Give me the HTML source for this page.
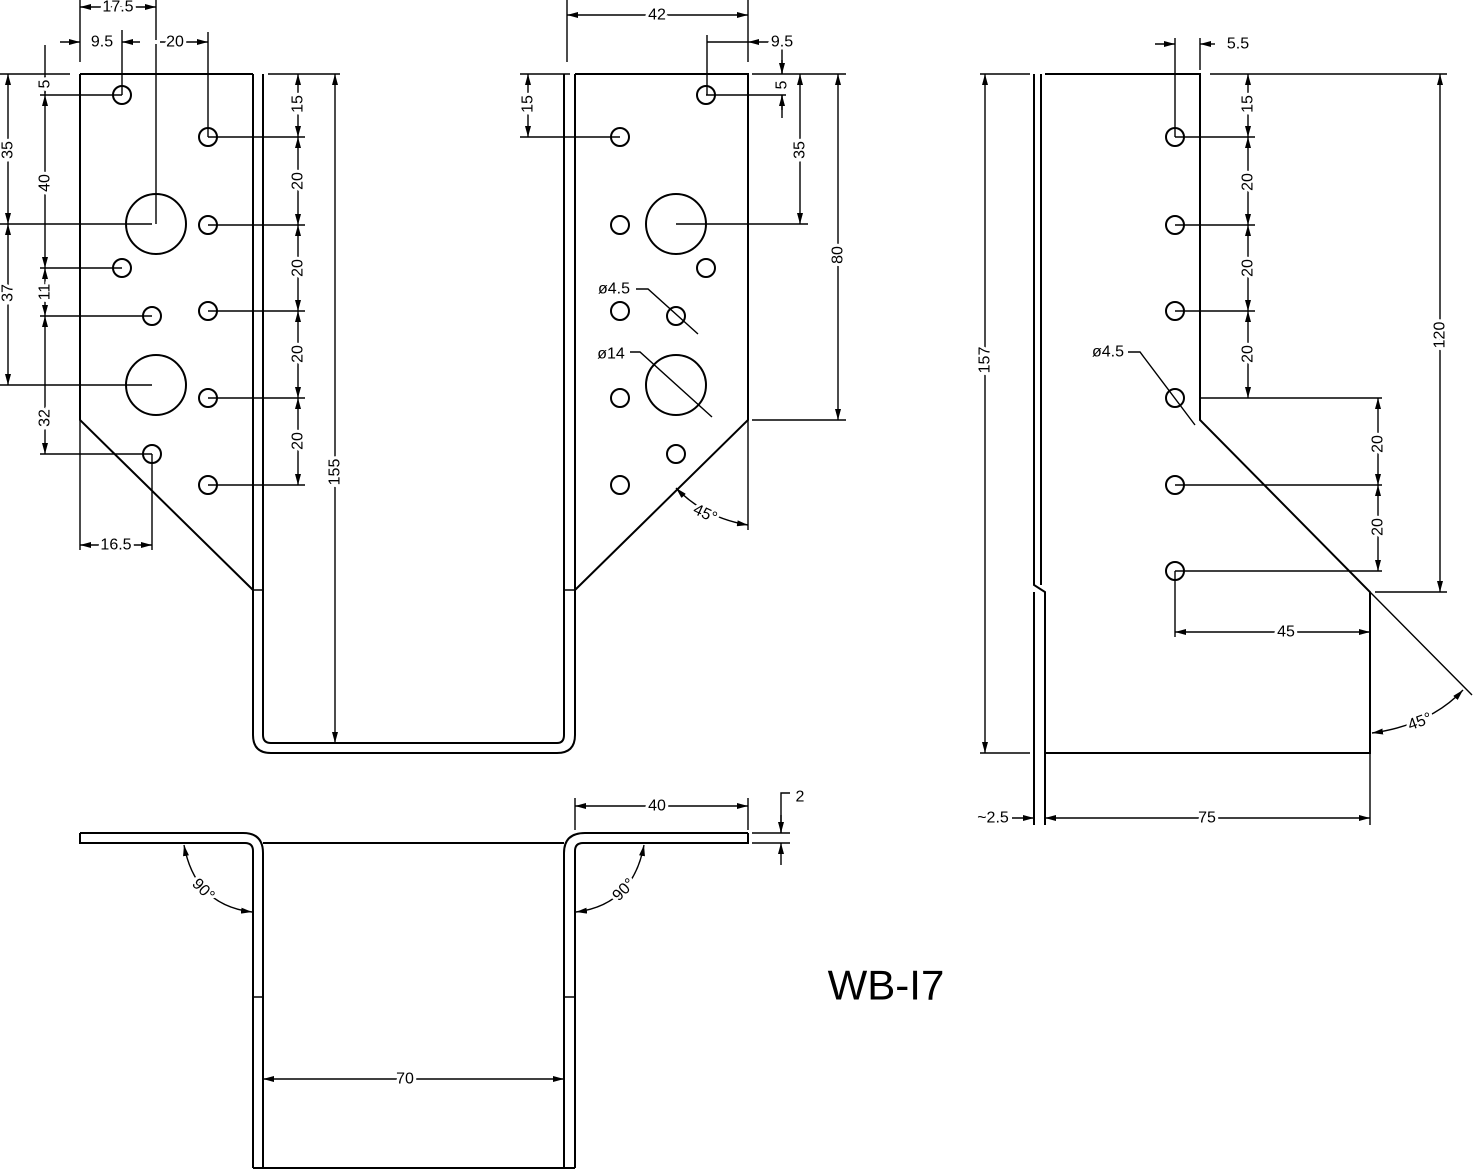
<!DOCTYPE html>
<html><head><meta charset="utf-8"><style>
html,body{margin:0;padding:0;background:#fff}
svg{display:block}
text{font-family:"Liberation Sans",sans-serif;font-size:16px;fill:#000;stroke:#fff;stroke-width:6px;paint-order:stroke;text-anchor:middle;dominant-baseline:central}
.p{fill:none;stroke:#000;stroke-width:2}
.d{fill:none;stroke:#000;stroke-width:1.4}
.a{fill:none;stroke:#000;stroke-width:1.4;marker-start:url(#m);marker-end:url(#m)}
.e{fill:none;stroke:#000;stroke-width:1.4;marker-end:url(#m)}
</style></head><body>
<svg width="1474" height="1171" viewBox="0 0 1474 1171" xmlns="http://www.w3.org/2000/svg">
<defs><marker id="m" markerUnits="userSpaceOnUse" markerWidth="11" markerHeight="6" refX="11" refY="3" orient="auto-start-reverse"><path d="M0,0 L11,3 L0,6z" fill="#000"/></marker></defs>

<!-- FRONT VIEW -->
<path class="p" d="M80,74 H253 M80,74 V420 L253,590 M253,74 V735 Q253,753 271,753 H557 Q575,753 575,735 V74 M263,74 V735 Q263,743 271,743 H557 Q564,743 564,735 V74 M575,74 H748 V420 L575,590"/>
<path class="d" d="M253,590 H263 M564,590 H575"/>
<g class="p" stroke-width="1.8">
<circle cx="122" cy="95" r="9"/><circle cx="208" cy="137" r="9"/><circle cx="208" cy="225" r="9"/><circle cx="122" cy="268" r="9"/><circle cx="152" cy="316" r="9"/><circle cx="208" cy="311" r="9"/><circle cx="208" cy="398" r="9"/><circle cx="152" cy="454" r="9"/><circle cx="208" cy="485" r="9"/>
<circle cx="156" cy="224" r="30"/><circle cx="156" cy="385" r="30"/>
<circle cx="706" cy="95" r="9"/><circle cx="620" cy="137" r="9"/><circle cx="620" cy="225" r="9"/><circle cx="706" cy="268" r="9"/><circle cx="620" cy="311" r="9"/><circle cx="676" cy="316" r="9"/><circle cx="620" cy="398" r="9"/><circle cx="676" cy="454" r="9"/><circle cx="620" cy="485" r="9"/>
<circle cx="676" cy="224" r="30"/><circle cx="676" cy="385" r="30"/>
</g>
<!-- left dims -->
<path class="d" d="M80,0 V62 M156,0 V224 M122,30 V95 M208,32 V137 M0,74 H70 M0,224 H152 M0,385 H152 M40,95 H122 M40,268 H122 M40,316 H152 M40,454 H152 M45,45 V74 M80,420 V550 M152,454 V550 M208,137 H305 M208,225 H305 M208,311 H305 M208,398 H305 M208,485 H305 M268,74 H340"/>
<line class="a" x1="80" y1="7" x2="156" y2="7"/><text x="118" y="7">17.5</text>
<line class="e" x1="60" y1="42" x2="80" y2="42"/><text x="102" y="42">9.5</text>
<line class="a" x1="122" y1="42" x2="208" y2="42"/><line x1="140" y1="42" x2="160" y2="42" stroke="#fff" stroke-width="4"/><text x="175" y="42">20</text>
<line class="a" x1="8" y1="74" x2="8" y2="224"/><text transform="translate(8,150) rotate(-90)">35</text>
<line class="a" x1="8" y1="224" x2="8" y2="385"/><text transform="translate(8,293) rotate(-90)">37</text>
<line class="a" x1="45" y1="74" x2="45" y2="95"/><text transform="translate(45,84) rotate(-90)">5</text>
<line class="a" x1="45" y1="95" x2="45" y2="268"/><text transform="translate(45,183) rotate(-90)">40</text>
<line class="a" x1="45" y1="268" x2="45" y2="316"/><text transform="translate(45,292) rotate(-90)">11</text>
<line class="a" x1="45" y1="316" x2="45" y2="454"/><text transform="translate(45,418) rotate(-90)">32</text>
<line class="a" x1="298" y1="74" x2="298" y2="137"/><text transform="translate(298,104) rotate(-90)">15</text>
<line class="a" x1="298" y1="137" x2="298" y2="225"/><text transform="translate(298,181) rotate(-90)">20</text>
<line class="a" x1="298" y1="225" x2="298" y2="311"/><text transform="translate(298,268) rotate(-90)">20</text>
<line class="a" x1="298" y1="311" x2="298" y2="398"/><text transform="translate(298,354) rotate(-90)">20</text>
<line class="a" x1="298" y1="398" x2="298" y2="485"/><text transform="translate(298,441) rotate(-90)">20</text>
<line class="a" x1="335" y1="74" x2="335" y2="743"/><text transform="translate(335,472) rotate(-90)">155</text>
<line class="a" x1="80" y1="545" x2="152" y2="545"/><text x="116" y="545">16.5</text>
<!-- right flange dims -->
<path class="d" d="M567,0 V62 M748,0 V62 M707,35 V95 M706,95 H786 M520,74 H570 M520,137 H620 M676,224 H808 M752,74 H846 M752,420 H846 M748,420 V530 M782,45 V74 M782,95 V118 M636,289 H648 L698,334 M630,352 H640 L712,417"/>
<line class="a" x1="567" y1="15" x2="748" y2="15"/><text x="657" y="15">42</text>
<line class="e" x1="770" y1="42" x2="748" y2="42"/><line class="d" x1="707" y1="42" x2="748" y2="42"/><text x="782" y="42">9.5</text>
<line class="e" x1="782" y1="60" x2="782" y2="74"/><line class="e" x1="782" y1="110" x2="782" y2="95"/><text transform="translate(782,85) rotate(-90)">5</text>
<line class="a" x1="528" y1="74" x2="528" y2="137"/><text transform="translate(528,104) rotate(-90)">15</text>
<line class="a" x1="800" y1="74" x2="800" y2="224"/><text transform="translate(800,150) rotate(-90)">35</text>
<line class="a" x1="838" y1="74" x2="838" y2="420"/><text transform="translate(838,255) rotate(-90)">80</text>
<text x="614" y="289">ø4.5</text><text x="611" y="354">ø14</text>
<path class="a" d="M676,488 Q705,518 748,525"/><text transform="translate(705,514) rotate(25)">45°</text>

<!-- SECTION VIEW -->
<path class="p" d="M80,833 H243 Q263,833 263,853 V1168 M80,833 V843 H245 Q253,843 253,851 V1168 M263,843 H564 M748,833 H585 Q564,833 564,853 V1168 M748,833 V843 H583 Q575,843 575,851 V1168 M253,1168 H575"/>
<path class="d" d="M253,997 H263 M564,997 H575 M575,798 V830 M748,798 V830 M752,833 H790 M752,843 H790"/>
<line class="a" x1="575" y1="806" x2="748" y2="806"/><text x="657" y="806">40</text>
<path class="d" d="M781,833 V793 H790"/><line class="e" x1="781" y1="815" x2="781" y2="833"/><line class="e" x1="781" y1="865" x2="781" y2="843"/>
<text x="800" y="797">2</text>
<line class="a" x1="263" y1="1079" x2="564" y2="1079"/><text x="405" y="1079">70</text>
<path class="a" d="M184,845 Q195,905 252,912"/><text transform="translate(203,890) rotate(45)">90°</text>
<path class="a" d="M644,845 Q633,905 576,912"/><text transform="translate(624,890) rotate(-45)">90°</text>

<!-- SIDE VIEW -->
<path class="p" d="M1034,74 V585 L1045,592 V753 M1041,74 V585 M1034,592 V825 M1045,753 V825 M1045,74 H1200 V420 L1370,592 V753 H1045"/>
<g class="p" stroke-width="1.8"><circle cx="1175" cy="137" r="9"/><circle cx="1175" cy="225" r="9"/><circle cx="1175" cy="311" r="9"/><circle cx="1175" cy="398" r="9"/><circle cx="1175" cy="485" r="9"/><circle cx="1175" cy="571" r="9"/></g>
<path class="d" d="M1175,38 V137 M1200,38 V70 M1210,74 H1447 M1175,137 H1255 M1175,225 H1255 M1175,311 H1255 M1200,398 H1382 M1175,485 H1382 M1175,571 H1382 M1375,592 H1447 M1175,571 V637 M1370,592 L1472,695 M980,74 H1030 M980,753 H1030 M1370,753 V825 M1128,352 H1140 L1195,425"/>
<line class="e" x1="1155" y1="44" x2="1175" y2="44"/><line class="e" x1="1215" y1="44" x2="1200" y2="44"/><text x="1238" y="44">5.5</text>
<line class="a" x1="1248" y1="74" x2="1248" y2="137"/><text transform="translate(1248,104) rotate(-90)">15</text>
<line class="a" x1="1248" y1="137" x2="1248" y2="225"/><text transform="translate(1248,182) rotate(-90)">20</text>
<line class="a" x1="1248" y1="225" x2="1248" y2="311"/><text transform="translate(1248,268) rotate(-90)">20</text>
<line class="a" x1="1248" y1="311" x2="1248" y2="398"/><text transform="translate(1248,354) rotate(-90)">20</text>
<line class="a" x1="1378" y1="398" x2="1378" y2="485"/><text transform="translate(1378,444) rotate(-90)">20</text>
<line class="a" x1="1378" y1="485" x2="1378" y2="571"/><text transform="translate(1378,527) rotate(-90)">20</text>
<line class="a" x1="1440" y1="74" x2="1440" y2="592"/><text transform="translate(1440,335) rotate(-90)">120</text>
<line class="a" x1="985" y1="74" x2="985" y2="753"/><text transform="translate(985,360) rotate(-90)">157</text>
<line class="a" x1="1175" y1="632" x2="1370" y2="632"/><text x="1286" y="632">45</text>
<text x="1108" y="352">ø4.5</text>
<path class="a" d="M1463,690 Q1430,725 1372,733"/><text transform="translate(1420,722) rotate(-20)">45°</text>
<line class="a" x1="1045" y1="818" x2="1370" y2="818"/><text x="1207" y="818">75</text>
<line class="e" x1="1012" y1="818" x2="1034" y2="818"/><text x="993" y="818">~2.5</text>

<text x="886" y="985" style="font-size:42px;stroke:none">WB-I7</text>
</svg>
</body></html>
